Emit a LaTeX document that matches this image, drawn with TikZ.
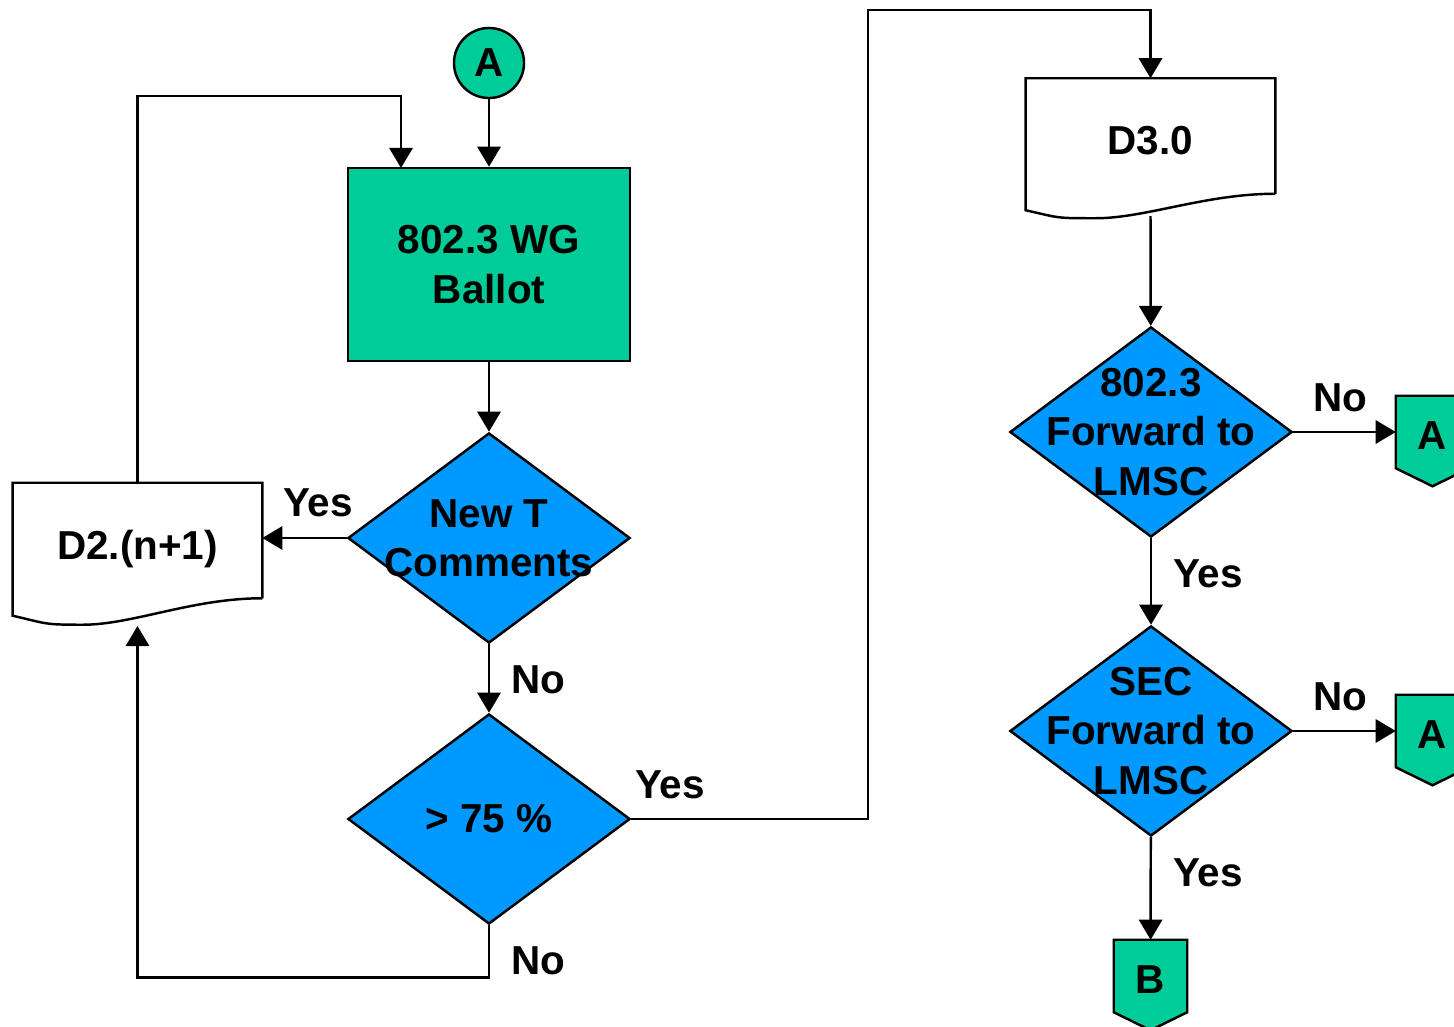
\documentclass[tikz,border=0pt]{standalone}
\usepackage{fontspec}
\setmainfont{Liberation Sans}
\usetikzlibrary{shapes.geometric,arrows.meta,calc}
\definecolor{ballotgreen}{HTML}{00CC99}
\definecolor{askblue}{HTML}{0099FF}
\begin{document}
\begin{tikzpicture}[x=0.01cm,y=-0.01cm,line width=0.7pt,font=\fontsize{11.5}{14}\selectfont\bfseries]
\tikzstyle{pr} = [rectangle,draw=black,fill=ballotgreen,minimum width=2.82cm,minimum height=1.93cm,align=center] %process
\tikzstyle{dc} = [diamond,draw=black,fill=askblue,minimum width=2.82cm,minimum height=2.1cm,inner sep=0pt] %decision
\tikzstyle{tx} = [align=center] %text of a decision
\tikzstyle{doc} = [rectangle,minimum width=2.47cm,minimum height=1.13cm,text height=13.2pt,text depth=2.5pt] %document, outline drawn below
\tikzstyle{cn} = [circle,draw=black,fill=ballotgreen,minimum size=0.7cm,inner sep=0pt] %connector
\tikzstyle{op} = [rectangle,minimum width=0.71cm,minimum height=0.7cm] %off page, outline drawn below
\tikzstyle{ot} = [text height=10pt,text depth=0pt] %text of an off page connector
\tikzstyle{ar} = [-{Triangle[length=5.7pt,width=6.6pt]}] %arrow
\useasboundingbox (0,0) rectangle (1454,1027);
% nodes
\node[cn](cA)at(489,63){A};
\node[pr](wg)at(489,264.5){802.3 WG\\Ballot};
\node[dc](qT)at(489,538){};
\node[tx](qTt)at(qT){New T\\Comments};
\node[doc](d2)at(137.5,540.5){D2.(n+1)};
\node[dc](q75)at(489,819){};
\node[tx](q75t)at(q75){> 75 \%};
\node[doc](d3)at(1150.5,136){D3.0};
\node[dc](qF)at(1151,432){};
\node[tx](qFt)at(qF){802.3\\Forward to\\LMSC};
\node[dc](qS)at(1151,731){};
\node[tx](qSt)at(qS){SEC\\Forward to\\LMSC};
\node[op](oA1)at(1432.5,432){};
\node[op](oA2)at(1432.5,731){};
\node[op](oB)at(1150.5,976){};
% documents
\draw(d2.south east)--(d2.north east)--(d2.north west)--++(0,133) .. controls +(35,8) and +(-40,0) .. ++(70,9) .. controls +(50,0) and +(-70,0) .. (d2.south east);
\draw(d3.south east)--(d3.north east)--(d3.north west)--++(0,132) .. controls +(35,8) and +(-40,0) .. ++(70,8) .. controls +(50,0) and +(-70,0) .. (d3.south east);
% off page connectors
\draw[fill=ballotgreen](oA1.north west)--(oA1.north east)--(oA1.south east)--($(oA1.south)+(0,18)$)--(oA1.south west)--cycle;
\draw[fill=ballotgreen](oA2.north west)--(oA2.north east)--(oA2.south east)--($(oA2.south)+(0,18)$)--(oA2.south west)--cycle;
\draw[fill=ballotgreen](oB.north west)--(oB.north east)--(oB.south east)--($(oB.south)+(0,18)$)--(oB.south west)--cycle;
\node[ot](oA1t)at(oA1){A};
\node[ot](oA2t)at(oA2){A};
\node[ot](oBt)at(oB){B};
% connectors
\coordinate(wgin)at(401,168);
\coordinate(d2in)at(137.5,626);
\coordinate(over)at(868,10);
\coordinate(d3out)at(1150.5,216);
\draw[ar](cA)--(wg);
\draw[ar](d2.north)--++(0,-387)-|(wgin);
\draw[ar](wg)--(qT);
\draw[ar](qT.west)--(qT.west-|d2.east);
\draw[ar](qT)--(q75);
\draw[ar](q75.south)--++(0,52)-|(d2in);
\draw[ar](q75.east)-|(over)-|(d3.north);
\draw[ar](d3out)--(qF);
\draw[ar](qF)--(oA1);
\draw[ar](qF)--(qS);
\draw[ar](qS)--(oA2);
\draw[ar](qS)--(oB);
% labels
\node(lyT)at(318,503){Yes};
\node(lnT)at(538,680){No};
\node(ln75)at(538,961){No};
\node(ly75)at(670,785){Yes};
\node(lnF)at(1340,398){No};
\node(lyF)at(1208,574){Yes};
\node(lnS)at(1340,697){No};
\node(lyS)at(1208,873){Yes};
\end{tikzpicture}
\end{document}
